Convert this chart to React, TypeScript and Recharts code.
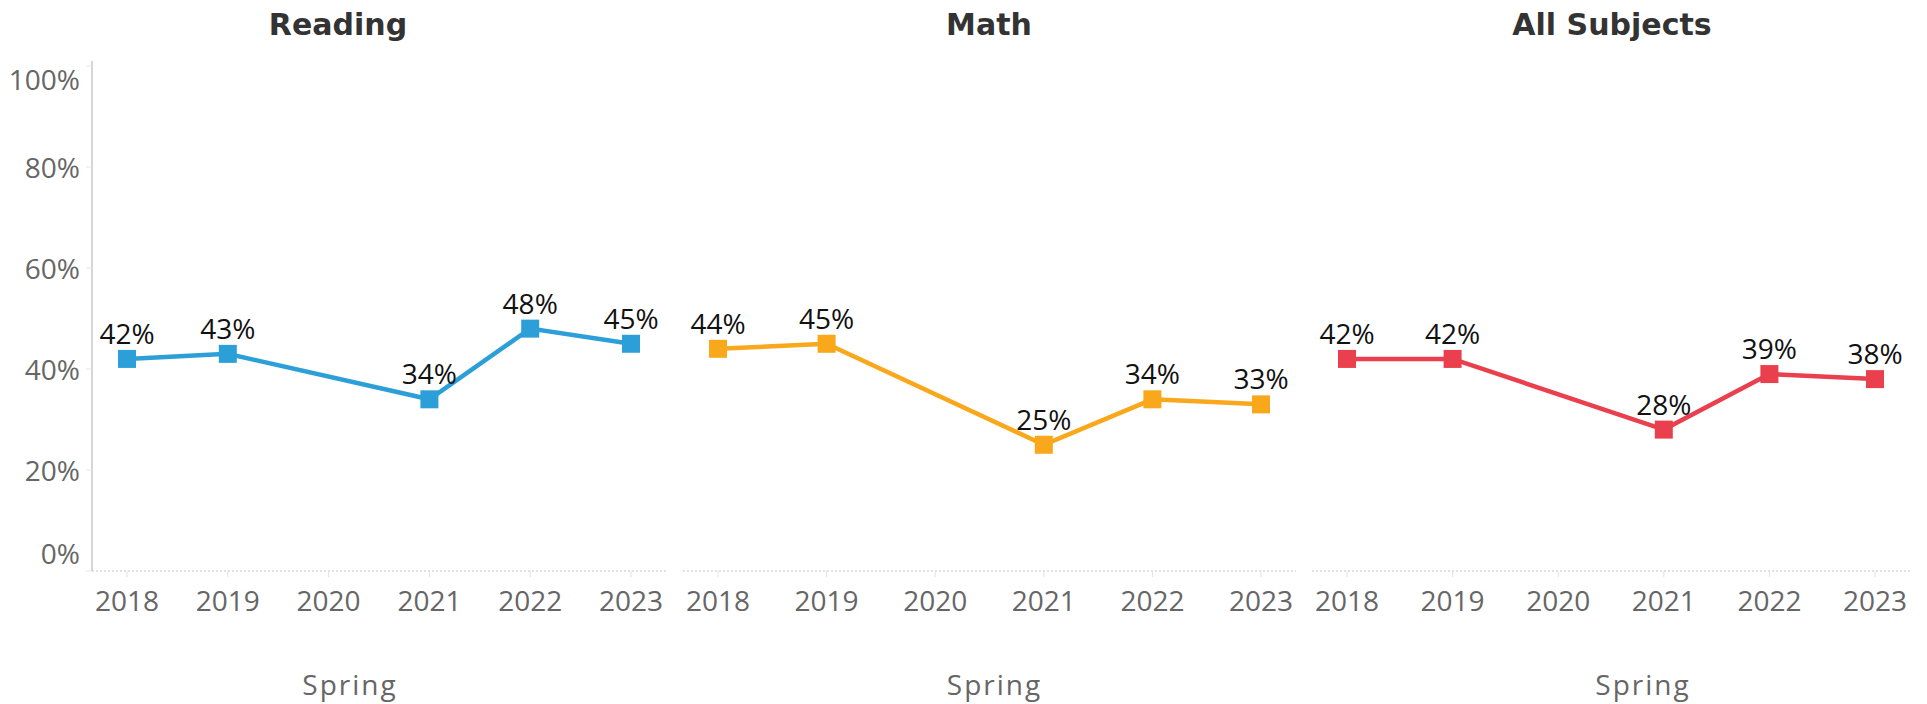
import React from 'react';
import { LineChart, Line, XAxis, YAxis, LabelList } from 'recharts';

const YEARS = ['2018', '2019', '2020', '2021', '2022', '2023'];
const READING = [42, 43, null, 34, 48, 45];
const MATH = [44, 45, null, 25, 34, 33];
const ALL_SUBJECTS = [42, 42, null, 28, 39, 38];
const Y_TICKS = [0, 20, 40, 60, 80, 100];
const X_AXIS_TITLE = 'Spring';

const FONT = "'Open Sans', 'Noto Sans', sans-serif";
const TITLE_FONT = "'DejaVu Sans', 'Open Sans', sans-serif";

const makeDot = (color: string) => (props: any) => {
  const { cx, cy, index, payload } = props;
  if (cx == null || cy == null || payload == null || payload.value == null) {
    return <g key={`d-${index}`} />;
  }
  return <rect key={`d-${index}`} x={cx - 9} y={cy - 9} width={18} height={18} fill={color} />;
};

const YTick = (props: any) => {
  const { x, y, payload } = props;
  let shift = 0;
  if (payload.value === 100) shift = 13;
  if (payload.value === 0) shift = -18;
  return (
    <text x={x} y={y + shift} textAnchor="end" dominantBaseline="central" fill="#666666" fontSize={28} fontFamily={FONT}>
      {`${payload.value}%`}
    </text>
  );
};

type PanelProps = {
  title: string;
  values: (number | null)[];
  color: string;
  left: number;
  width: number;
  marginLeft: number;
  marginRight: number;
  yAxisWidth: number;
  showYLabels: boolean;
  springDx: number;
  titleX: number;
};

const Panel = (p: PanelProps) => {
  const data = YEARS.map((year, i) => ({ year, value: p.values[i] }));
  return (
    <>
      <div
        style={{
          position: 'absolute',
          left: p.titleX - 200,
          width: 400,
          top: 7,
          textAlign: 'center',
          fontFamily: TITLE_FONT,
          fontWeight: 'bold',
          fontSize: 30,
          lineHeight: '36px',
          color: '#333333',
        }}
      >
        {p.title}
      </div>
      <div style={{ position: 'absolute', left: p.left, top: 0 }}>
        <LineChart
          width={p.width}
          height={704}
          data={data}
          margin={{ top: 61, right: p.marginRight, bottom: 0, left: p.marginLeft }}
        >
          <XAxis
            dataKey="year"
            type="category"
            padding={{ left: 35, right: 35 }}
            height={133}
            axisLine={{ stroke: '#c4c4c4', strokeDasharray: '2 2' }}
            tickLine={{ stroke: '#e2e2e2' }}
            tickSize={6}
            tickMargin={14}
            tick={{ fill: '#666666', fontSize: 28, fontFamily: FONT }}
            interval={0}
            label={{
              value: X_AXIS_TITLE,
              position: 'insideBottom',
              offset: 9,
              dx: p.springDx,
              fill: '#666666',
              fontSize: 28,
              fontFamily: FONT,
              letterSpacing: 2,
            }}
          />
          <YAxis
            yAxisId="left"
            type="number"
            domain={[0, 101]}
            ticks={Y_TICKS}
            allowDataOverflow
            width={p.yAxisWidth}
            axisLine={{ stroke: '#c9c9c9', strokeWidth: 1.5 }}
            tickLine={p.showYLabels ? { stroke: '#e5e5e5' } : false}
            tickSize={6}
            tickMargin={6}
            tick={p.showYLabels ? <YTick /> : false}
          />
          <YAxis
            yAxisId="right"
            orientation="right"
            type="number"
            domain={[0, 101]}
            width={0}
            axisLine={{ stroke: '#c9c9c9', strokeWidth: 1.5 }}
            tickLine={false}
            tick={false}
          />
          <Line
            yAxisId="left"
            type="linear"
            dataKey="value"
            stroke={p.color}
            strokeWidth={4.5}
            connectNulls
            isAnimationActive={false}
            dot={makeDot(p.color)}
            activeDot={false}
          >
            <LabelList
              dataKey="value"
              position="top"
              offset={15}
              formatter={(v: any) => (v == null ? '' : `${v}%`)}
              fill="#111111"
              fontSize={28}
              fontFamily={FONT}
            />
          </Line>
        </LineChart>
      </div>
    </>
  );
};

export default function App() {
  return (
    <div style={{ position: 'absolute', left: 0, top: 0, width: 1927, height: 704, background: '#ffffff', overflow: 'hidden' }}>
      <Panel title="Reading" values={READING} color="#2c9fd9" left={0} width={676} marginLeft={0} marginRight={10} yAxisWidth={92} showYLabels springDx={-29} titleX={338} />
      <Panel title="Math" values={MATH} color="#f9a71b" left={673} width={629} marginLeft={10} marginRight={6} yAxisWidth={0} showYLabels={false} springDx={5} titleX={989} />
      <Panel title="All Subjects" values={ALL_SUBJECTS} color="#ea3f4c" left={1302} width={625} marginLeft={10} marginRight={17} yAxisWidth={0} showYLabels={false} springDx={32} titleX={1612} />
    </div>
  );
}
